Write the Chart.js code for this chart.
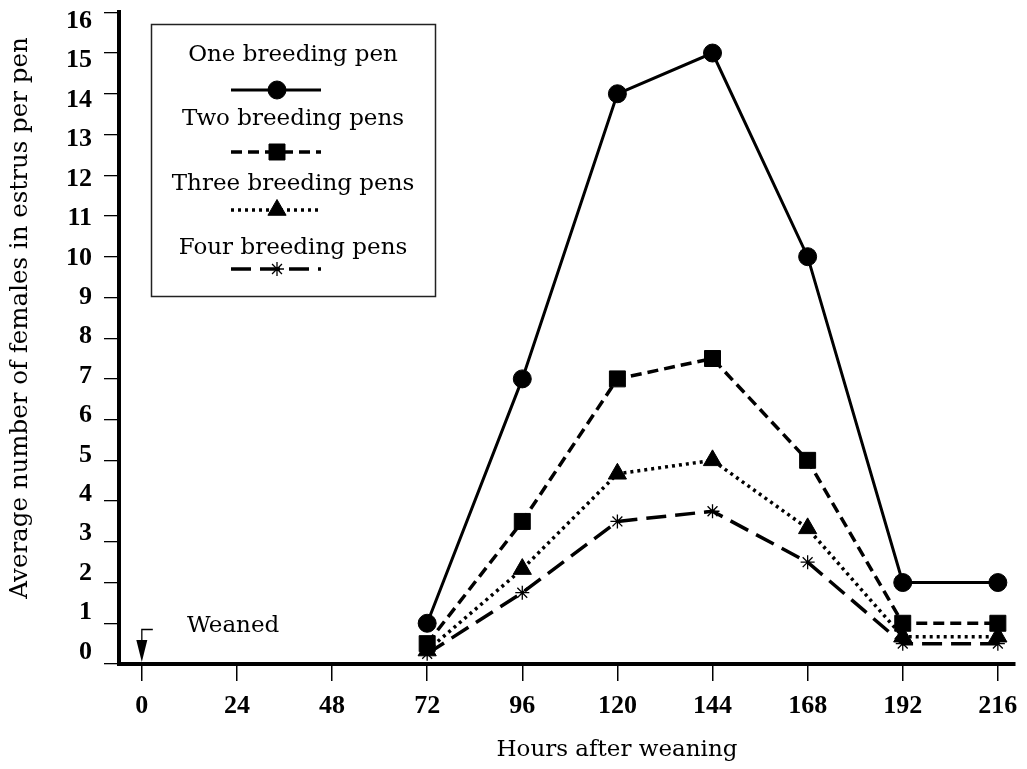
<!DOCTYPE html>
<html>
<head>
<meta charset="utf-8">
<script src="https://cdn.jsdelivr.net/npm/chart.js@4.4.1/dist/chart.umd.min.js"></script>
<style>
  html, body { margin: 0; padding: 0; background: #fff; }
  #wrap { width: 1027px; height: 769px; position: relative; }
</style>
</head>
<body>
<div id="wrap"><canvas id="c" width="1027" height="769"></canvas></div>
<script>
// ---- data ----
const hours = [72, 96, 120, 144, 168, 192, 216];
const onePen = [1, 7, 14, 15, 10, 2, 2];
const twoPens = [0.5, 3.5, 7, 7.5, 5, 1, 1];
const threePens = [0.33, 2.33, 4.67, 5, 3.33, 0.67, 0.67];
const fourPens = [0.25, 1.75, 3.5, 3.75, 2.5, 0.5, 0.5];
const seriesLabels = ['One breeding pen', 'Two breeding pens', 'Three breeding pens', 'Four breeding pens'];
const xTickValues = [0, 24, 48, 72, 96, 120, 144, 168, 192, 216];
const yTickValues = [0, 1, 2, 3, 4, 5, 6, 7, 8, 9, 10, 11, 12, 13, 14, 15, 16];
const xTitle = 'Hours after weaning';
const yTitle = 'Average number of females in estrus per pen';
const noteText = 'Weaned';

const toPts = arr => hours.map((h, i) => ({ x: h, y: arr[i] }));

const styles = [
  { pointStyle: 'circle', radius: 9, dash: [], width: 3 },
  { pointStyle: 'rect', radius: 11.3, dash: [11, 6], width: 3.5 },
  { pointStyle: 'triangle', radius: 10.5, dash: [3, 4], width: 3.5 },
  { pointStyle: 'star', radius: 7, dash: [20, 9], width: 3.5 }
];
const seriesData = [onePen, twoPens, threePens, fourPens];

const datasets = seriesData.map((arr, i) => ({
  label: seriesLabels[i],
  data: toPts(arr),
  borderColor: '#000',
  backgroundColor: '#000',
  borderWidth: styles[i].width,
  borderDash: styles[i].dash,
  pointStyle: styles[i].pointStyle,
  pointRadius: styles[i].radius,
  pointBorderWidth: i === 3 ? 1.3 : 1,
  pointBorderColor: '#000',
  pointBackgroundColor: '#000',
  tension: 0,
  fill: false
}));

const tickFont = { family: '"Liberation Serif", serif', size: 26, weight: 'bold' };

const overlay = {
  id: 'overlay',
  afterDraw(chart) {
    const { ctx } = chart;
    const xs = chart.scales.x, ys = chart.scales.y;
    ctx.save();
    ctx.fillStyle = '#000';
    ctx.strokeStyle = '#000';
    // axis titles
    ctx.font = '24.5px "DejaVu Serif"';
    ctx.textAlign = 'center';
    ctx.textBaseline = 'middle';
    ctx.save();
    ctx.translate(21, 318);
    ctx.rotate(-Math.PI / 2);
    ctx.fillText(yTitle, 0, 0);
    ctx.restore();
    ctx.font = '23px "DejaVu Serif"';
    ctx.fillText(xTitle, 617, 750);

    // Weaned annotation
    const ax = xs.getPixelForValue(0);
    const ay = ys.getPixelForValue(0) - 2;
    ctx.font = '23px "DejaVu Serif"';
    ctx.textAlign = 'left';
    ctx.textBaseline = 'alphabetic';
    ctx.fillText(noteText, 187, 632);
    ctx.lineWidth = 1.3;
    ctx.setLineDash([]);
    ctx.beginPath();
    ctx.moveTo(ax + 11, 629.5);
    ctx.lineTo(ax, 629.5);
    ctx.lineTo(ax, 642);
    ctx.stroke();
    ctx.beginPath();
    ctx.moveTo(ax - 5.5, 640);
    ctx.lineTo(ax + 5.5, 640);
    ctx.lineTo(ax, ay);
    ctx.closePath();
    ctx.fill();

    // legend
    ctx.lineWidth = 1.5;
    ctx.strokeStyle = '#222';
    ctx.strokeRect(151.5, 24.5, 284, 272);
    const textY = [55, 119, 184, 248];
    const sampleY = [90, 152, 210, 269];
    ctx.font = '23px "DejaVu Serif"';
    ctx.textAlign = 'center';
    ctx.textBaseline = 'middle';
    ctx.fillStyle = '#000';
    seriesLabels.forEach((lab, i) => {
      ctx.fillText(lab, 293, textY[i]);
      ctx.save();
      ctx.strokeStyle = '#000';
      ctx.lineWidth = styles[i].width;
      ctx.setLineDash(styles[i].dash);
      ctx.beginPath();
      ctx.moveTo(231, sampleY[i]);
      ctx.lineTo(321, sampleY[i]);
      ctx.stroke();
      ctx.setLineDash([]);
      ctx.fillStyle = '#000';
      ctx.lineWidth = i === 3 ? 1.3 : 1;
      Chart.helpers.drawPoint(ctx, { pointStyle: styles[i].pointStyle, radius: styles[i].radius, borderWidth: ctx.lineWidth, rotation: 0 }, 277, sampleY[i]);
      ctx.restore();
    });
    ctx.restore();
  }
};

function zeroPad(s) { s.paddingTop = 0; s.paddingBottom = 0; s.paddingLeft = 0; s.paddingRight = 0; }

new Chart(document.getElementById('c'), {
  type: 'line',
  data: { datasets },
  options: {
    responsive: false,
    animation: false,
    devicePixelRatio: 1,
    layout: { padding: { top: 11, right: 5, left: 0, bottom: 0 } },
    plugins: { legend: { display: false }, tooltip: { enabled: false } },
    scales: {
      x: {
        type: 'linear',
        min: -5.76,
        max: 220.25,
        afterBuildTicks: s => { s.ticks = xTickValues.map(v => ({ value: v })); },
        afterFit: s => { s.height = 105; zeroPad(s); },
        grid: { drawOnChartArea: false, drawTicks: true, tickLength: 17, color: '#000', lineWidth: 1.5 },
        border: { display: true, color: '#000', width: 4 },
        ticks: { color: '#000', font: tickFont, padding: 10, maxRotation: 0, autoSkip: false }
      },
      y: {
        type: 'linear',
        position: 'left',
        weight: 0,
        min: 0,
        max: 16,
        afterBuildTicks: s => { s.ticks = yTickValues.map(v => ({ value: v })); },
        afterFit: s => { s.width = 27; zeroPad(s); },
        grid: { drawOnChartArea: false, drawTicks: true, tickLength: 15, color: '#000', lineWidth: 1.3 },
        border: { display: true, color: '#000', width: 4 },
        ticks: { display: false }
      },
      yLabels: {
        type: 'linear',
        position: 'left',
        weight: 1,
        min: -0.3038,
        max: 16.228,
        afterBuildTicks: s => { s.ticks = yTickValues.map(v => ({ value: v })); },
        afterFit: s => { s.width = 92; zeroPad(s); },
        grid: { display: false, drawTicks: false, drawOnChartArea: false },
        border: { display: false },
        ticks: { color: '#000', font: tickFont, padding: 0, autoSkip: false }
      }
    }
  },
  plugins: [overlay]
});
</script>
</body>
</html>
